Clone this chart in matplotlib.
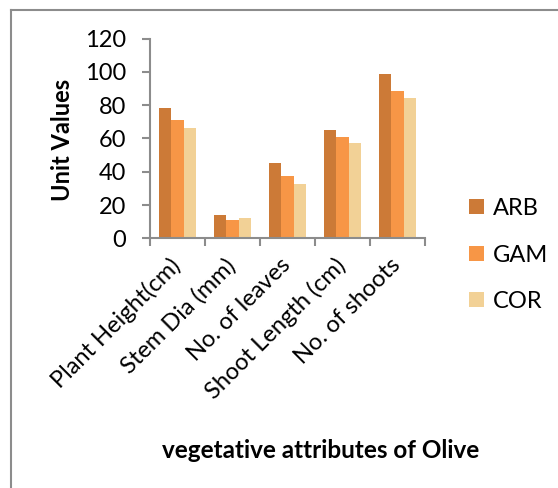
import matplotlib
matplotlib.use("Agg")
import matplotlib.pyplot as plt
from matplotlib.lines import Line2D
import numpy as np

plt.rcParams['font.family'] = ['Lato', 'DejaVu Sans']

categories = ["Plant Height(cm)", "Stem Dia (mm)", "No. of leaves",
              "Shoot Length (cm)", "No. of shoots"]
series_names = ["ARB", "GAM", "COR"]
arb = [78, 14, 45.5, 65, 98.5]
gam = [71, 11, 37.5, 61, 88.3]
cor = [66.3, 12.2, 32.7, 57.3, 84.3]
y_ticks = [0, 20, 40, 60, 80, 100, 120]

colors = ["#CC7A37", "#F79646", "#F2D196"]
FS = 17

W, H = 558, 488
fig = plt.figure(figsize=(W / 100, H / 100), dpi=100)

# outer frame (top and left edges visible)
gray = "#8C8C8C"
fig.add_artist(Line2D([11 / W, 11 / W], [-0.1, 1 - 10 / H], color=gray, lw=1.5,
                      transform=fig.transFigure))
fig.add_artist(Line2D([11 / W, 1.1], [1 - 10 / H, 1 - 10 / H], color=gray, lw=1.5,
                      transform=fig.transFigure))

left, right = 150 / W, 425 / W
bottom, top = 1 - 238.3 / H, 1 - 38.5 / H
ax = fig.add_axes([left, bottom, right - left, top - bottom])

bw = 1 / 4.5
x = np.arange(len(categories)) + 0.5
for i, (vals, name) in enumerate(zip([arb, gam, cor], series_names)):
    ax.bar(x + (i - 1) * bw, vals, width=bw, color=colors[i], label=name,
           edgecolor="none", zorder=2)

ax.set_xlim(0, len(categories))
ax.set_ylim(0, 120)
ax.set_yticks(y_ticks)
ax.set_xticks(np.arange(len(categories) + 1))
ax.set_xticklabels([])
ax.set_xticks(x, minor=True)
ax.set_xticklabels(categories, minor=True, rotation=45, ha="right", va="center",
                   rotation_mode="anchor", fontsize=FS)
ax.tick_params(axis="x", which="minor", length=0, pad=17)
ax.tick_params(axis="x", which="major", length=6, width=1.5, color=gray, direction="out")
ax.tick_params(axis="y", length=6, width=1.5, color=gray, direction="out",
               labelsize=FS, pad=11)

for s in ["top", "right"]:
    ax.spines[s].set_visible(False)
for s in ["left", "bottom"]:
    ax.spines[s].set_color(gray)
    ax.spines[s].set_linewidth(1.5)

ax.set_ylabel("")
fig.text(62 / W, 1 - 140 / H, "Unit Values", ha="center", va="center",
         rotation=90, fontsize=FS, fontweight="bold")
fig.text(321 / W, 1 - 450 / H, "vegetative attributes of Olive", ha="center",
         va="center", fontsize=17.5, fontweight="bold")

ax.legend(loc="center left", bbox_to_anchor=(469 / W, 1 - 255 / H),
          bbox_transform=fig.transFigure, frameon=False, fontsize=FS,
          handlelength=0.62, handleheight=0.62, handletextpad=0.4, labelspacing=1.08,
          borderpad=0, borderaxespad=0)

fig.savefig("out.png", dpi=100)
